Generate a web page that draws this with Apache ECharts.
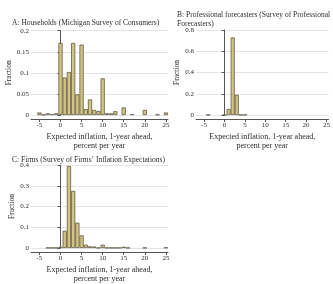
<!DOCTYPE html>
<html>
<head>
<meta charset="utf-8">
<script src="https://cdn.jsdelivr.net/npm/echarts@6/dist/echarts.min.js"></script>
<style>
html, body { margin: 0; padding: 0; background: #fff; }
#main { width: 333px; height: 284px; }
</style>
</head>
<body>
<div id="main"></div>
<script>
// bins: expected inflation, 1-year ahead (percent), one bar per integer
var bins = [-5,-4,-3,-2,-1,0,1,2,3,4,5,6,7,8,9,10,11,12,13,14,15,16,17,18,19,20,21,22,23,24,25];
var households = [0.006,0.0005,0.004,0.002,0.004,0.171,0.089,0.102,0.171,0.049,0.167,0.014,0.037,0.012,0.0095,0.087,0.004,0.004,0.009,0,0.018,0,0.002,0,0,0.012,0,0,0.001,0,0.006];
var forecasters = [0,0.002,0,0,0,0.002,0.057,0.73,0.19,0.002,0.002,0,0,0,0,0,0,0,0,0,0,0,0,0,0,0,0,0,0,0,0];
var firms = [0,0,0.001,0.001,0.001,0.006,0.083,0.395,0.275,0.122,0.061,0.016,0.008,0.007,0.001,0.016,0.001,0.001,0.001,0.001,0.006,0.001,0,0,0,0.001,0,0,0,0,0.002];
var xTicks = [-5,0,5,10,15,20,25];
var titles = [
	'A: Households (Michigan Survey of Consumers)',
	'B: Professional forecasters (Survey of Professional\nForecasters)',
	'C: Firms (Survey of Firms\u2019 Inflation Expectations)'
];
var xName = 'Expected inflation, 1-year ahead,\npercent per year';

var serif = '"Liberation Serif", "DejaVu Serif", serif';
var txt = '#2b2b2b';

function pairs(vals) {
	var out = [];
	for (var i = 0; i < bins.length; i++) {
		if (vals[i] > 0) out.push([bins[i], vals[i]]);
	}
	return out;
}

// grid boxes: left, top, width, height
var grids = [
	{ left: 31, top: 30.7, width: 137, height: 84.3 },
	{ left: 196, top: 30, width: 137, height: 85 },
	{ left: 31, top: 165, width: 137, height: 85.3 }
];
var yMax = [0.2, 0.8, 0.4];
var yInt = [0.05, 0.2, 0.1];
var series = [households, forecasters, firms];

var option = {
	animation: false,
	backgroundColor: '#fff',
	title: [],
	grid: [],
	xAxis: [],
	yAxis: [],
	series: []
};

var titlePos = [[7, 13], [172, 5], [7, 150]];
for (var k = 0; k < 3; k++) {
	option.title.push({
		text: titles[k],
		left: titlePos[k][0],
		top: titlePos[k][1],
		textStyle: { fontFamily: serif, fontSize: 7.5, fontWeight: 'normal', color: txt, lineHeight: 9.5 }
	});
	option.grid.push(grids[k]);
	option.xAxis.push({
		type: 'value',
		gridIndex: k,
		min: -7,
		max: 25.5,
		offset: 4,
		name: xName,
		nameLocation: 'middle',
		nameGap: 13,
		nameTextStyle: { fontFamily: serif, fontSize: 8, color: txt, lineHeight: 9 },
		axisLine: { show: true, onZero: false, lineStyle: { color: '#555', width: 1 } },
		axisTick: { show: true, length: 3, customValues: xTicks, lineStyle: { color: '#555' } },
		axisLabel: { customValues: xTicks, fontFamily: serif, fontSize: 7, color: txt, margin: 3 },
		splitLine: { show: false }
	});
	option.yAxis.push({
		type: 'value',
		gridIndex: k,
		min: 0,
		max: yMax[k],
		interval: yInt[k],
		name: 'Fraction',
		nameLocation: 'middle',
		nameGap: k == 1 ? 14 : 15,
		nameTextStyle: { fontFamily: serif, fontSize: 7.5, color: txt },
		axisLine: { show: true, lineStyle: { color: '#555', width: 1 } },
		axisTick: { show: true, length: 3, lineStyle: { color: '#555' } },
		axisLabel: { fontFamily: serif, fontSize: 7, color: txt, margin: 2 },
		splitLine: { show: true, lineStyle: { color: '#e4e4e4', width: 1 } }
	});
	option.series.push({
		type: 'bar',
		xAxisIndex: k,
		yAxisIndex: k,
		data: pairs(series[k]),
		barWidth: '100%',
		itemStyle: { color: '#d5c37e', borderColor: '#5f5b4a', borderWidth: 0.8 }
	});
}

var chart = echarts.init(document.getElementById('main'), null, { renderer: 'canvas' });
chart.setOption(option);
</script>
</body>
</html>
